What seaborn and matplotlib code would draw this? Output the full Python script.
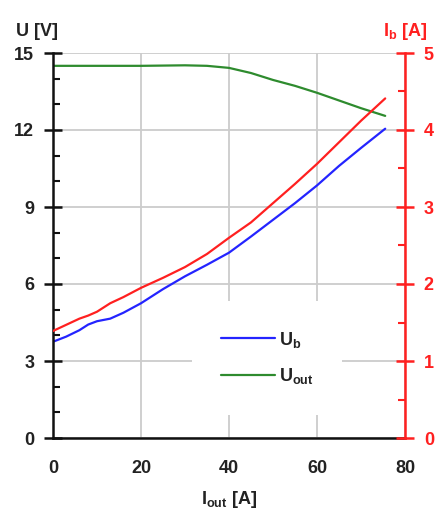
import numpy as np
import pandas as pd
import matplotlib
matplotlib.use('Agg')
import matplotlib.pyplot as plt
import seaborn as sns
from matplotlib.ticker import MultipleLocator

# data
i_out_green = [0, 10, 20, 30, 35, 40, 45, 50, 55, 60, 65, 70, 75.5]
u_out = [14.5, 14.5, 14.5, 14.52, 14.5, 14.42, 14.22, 13.95, 13.72, 13.45, 13.15, 12.85, 12.55]

i_out_blue = [0, 3, 6, 8, 10, 13, 16, 20, 25, 30, 35, 40, 45, 50, 55, 60, 65, 70, 75.5]
u_b = [3.75, 3.95, 4.2, 4.42, 4.55, 4.65, 4.88, 5.25, 5.8, 6.3, 6.75, 7.22, 7.85, 8.5, 9.15, 9.84, 10.6, 11.3, 12.05]

i_out_red = [0, 3, 6, 8, 10, 13, 16, 20, 25, 30, 35, 40, 45, 50, 55, 60, 65, 70, 75.5]
i_b = [1.39, 1.47, 1.55, 1.59, 1.64, 1.75, 1.83, 1.95, 2.08, 2.22, 2.39, 2.6, 2.8, 3.05, 3.3, 3.56, 3.84, 4.12, 4.41]

x_ticks = [0, 20, 40, 60, 80]
u_ticks = [0, 3, 6, 9, 12, 15]
i_ticks = [0, 1, 2, 3, 4, 5]

df_u = pd.DataFrame({'I': i_out_blue, 'U': u_b})
df_o = pd.DataFrame({'I': i_out_green, 'U': u_out})
df_i = pd.DataFrame({'I': i_out_red, 'A': i_b})

sns.set_style('white')
plt.rcParams['font.family'] = ['Liberation Sans', 'DejaVu Sans']
plt.rcParams['font.weight'] = 'bold'
plt.rcParams['axes.labelweight'] = 'bold'
plt.rcParams['mathtext.fontset'] = 'custom'
plt.rcParams['mathtext.rm'] = 'Liberation Sans:bold'
plt.rcParams['mathtext.it'] = 'Liberation Sans:bold'
plt.rcParams['mathtext.bf'] = 'Liberation Sans:bold'

dark = '#222222'
red = '#ff2020'

fig = plt.figure(figsize=(4.36, 5.11), dpi=100)
ax1 = fig.add_axes([53/436, 73/511, 352/436, 385/511])

sns.lineplot(x='I', y='U', data=df_u, ax=ax1, color='#2424ff', lw=1.6, label=r'U$_{\mathrm{b}}$')
sns.lineplot(x='I', y='U', data=df_o, ax=ax1, color='#2e8b2e', lw=1.6, label=r'U$_{\mathrm{out}}$')

ax1.set_xlim(0, 80)
ax1.set_ylim(0, 15)
ax1.set_xticks(x_ticks)
ax1.set_yticks(u_ticks)
ax1.xaxis.set_minor_locator(MultipleLocator(5))
ax1.yaxis.set_minor_locator(MultipleLocator(1))
ax1.grid(True, which='major', color='#cccccc', lw=1.3)
ax1.set_axisbelow(True)
for s in ['top', 'right']:
    ax1.spines[s].set_visible(False)
for s in ['left', 'bottom']:
    ax1.spines[s].set_color('#111111')
    ax1.spines[s].set_linewidth(1.8)
ax1.tick_params(which='major', direction='inout', length=13, width=1.8, color='#111111',
                labelsize=13, labelcolor=dark)
ax1.tick_params(which='minor', direction='in', length=5, width=1.5, color='#111111')
ax1.tick_params(axis='x', which='major', pad=9)
ax1.tick_params(axis='y', which='major', pad=7)
ax1.set_xlabel(r'I$_{\mathrm{out}}$ [A]', fontsize=13, color=dark, fontweight='bold', labelpad=9)
ax1.set_ylabel('')
ax1.text(-0.045, 1.045, 'U [V]', transform=ax1.transAxes, ha='center', va='baseline',
         fontsize=13, color=dark)

leg = ax1.legend(loc='lower left', bbox_to_anchor=(0.395, 0.06), frameon=True,
                 facecolor='white', edgecolor='none', framealpha=1, fontsize=13,
                 handlelength=3.0, borderpad=1.6, labelspacing=0.9, handletextpad=0.2,
                 borderaxespad=0)
for t in leg.get_texts():
    t.set_color(dark)

ax2 = ax1.twinx()
sns.lineplot(x='I', y='A', data=df_i, ax=ax2, color=red, lw=1.6)
ax2.set_ylim(0, 5)
ax2.set_yticks(i_ticks)
ax2.yaxis.set_minor_locator(MultipleLocator(0.5))
ax2.set_ylabel('')
ax2.grid(False)
for s in ['top', 'left', 'bottom']:
    ax2.spines[s].set_visible(False)
ax2.spines['right'].set_color(red)
ax2.spines['right'].set_linewidth(1.8)
ax2.tick_params(axis='y', which='major', direction='inout', length=13, width=1.8, color=red,
                labelsize=13, labelcolor=red, pad=7)
ax2.tick_params(axis='y', which='minor', direction='in', length=5, width=1.5, color=red)
ax2.text(1.0, 1.045, r'I$_{\mathrm{b}}$ [A]', transform=ax2.transAxes, ha='center',
         va='baseline', fontsize=13, color=red)

fig.savefig('out.png', dpi=100)
